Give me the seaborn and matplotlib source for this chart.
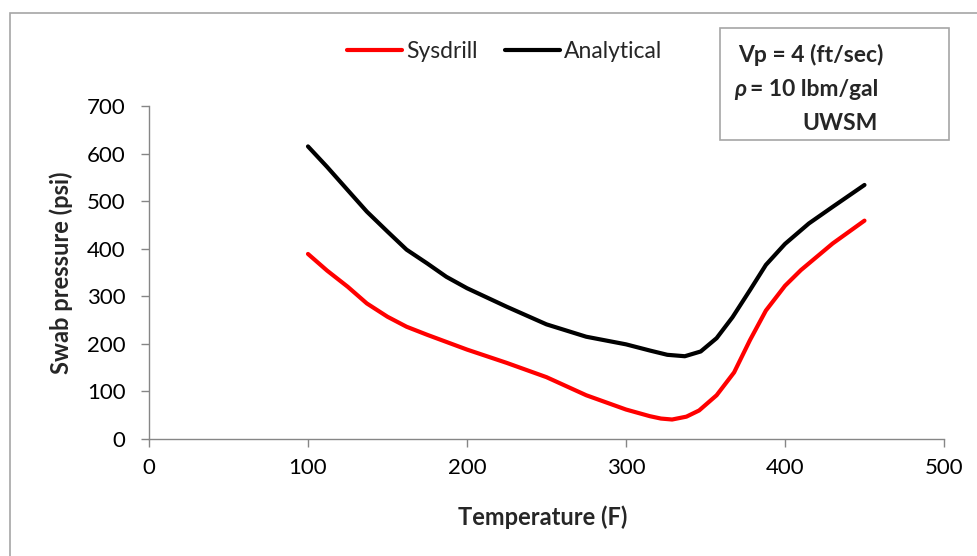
import matplotlib
matplotlib.use("Agg")
import matplotlib.pyplot as plt
import seaborn as sns
import pandas as pd
from matplotlib.patches import Rectangle

# values (Temperature F -> swab pressure psi)
sys_temp = [100, 112, 125, 137, 150, 162, 175, 200, 225, 250, 275, 300, 315, 322, 329, 338, 346, 357, 368, 378, 388, 400, 410, 430, 450]
sys_psi = [389, 354, 320, 285, 257, 236, 219, 188, 160, 130, 92, 62, 48, 43, 41, 47, 60, 92, 140, 208, 270, 322, 355, 411, 459]
ana_temp = [100, 112, 125, 137, 150, 162, 175, 187, 200, 225, 250, 275, 300, 315, 326, 337, 347, 357, 367, 378, 388, 400, 415, 430, 450]
ana_psi = [615, 572, 523, 478, 436, 398, 369, 341, 317, 278, 241, 215, 199, 186, 177, 174, 184, 212, 256, 313, 366, 410, 453, 488, 534]

series_names = ["Sysdrill", "Analytical"]
colors = ["#ff0000", "#000000"]

df = pd.concat([
    pd.DataFrame({"temp": sys_temp, "psi": sys_psi, "series": series_names[0]}),
    pd.DataFrame({"temp": ana_temp, "psi": ana_psi, "series": series_names[1]}),
])

sns.set_style("white")
plt.rcParams["font.family"] = ["Lato", "DejaVu Sans"]

fig = plt.figure(figsize=(9.77, 5.56), dpi=100)
ax = fig.add_axes([0.1525, 0.2104, 0.8137, 0.599])

sns.lineplot(data=df, x="temp", y="psi", hue="series", palette=colors,
             estimator=None, sort=False, linewidth=3.0, ax=ax)
for ln in ax.lines:
    ln.set_solid_joinstyle("round")
    ln.set_solid_capstyle("round")

ax.set_xlim(0, 500)
ax.set_ylim(0, 700)
ax.set_xticks(range(0, 501, 100))
ax.set_yticks(range(0, 701, 100))
ax.tick_params(axis="both", direction="out", length=6, width=1, color="#868686",
               labelsize=16, labelcolor="black", bottom=True, left=True)
ax.tick_params(axis="x", pad=8)
ax.tick_params(axis="y", pad=11)
for s in ["top", "right"]:
    ax.spines[s].set_visible(False)
for s in ["left", "bottom"]:
    ax.spines[s].set_color("#868686")
    ax.spines[s].set_linewidth(1)

ax.set_xlabel("Temperature (F)", fontsize=17, fontweight="bold")
ax.set_ylabel("Swab pressure (psi)", fontsize=17, fontweight="bold")
ax.xaxis.set_label_coords(0.495, -0.2)
ax.yaxis.set_label_coords(-0.095, 0.5)

ax.legend(loc="center", bbox_to_anchor=(505 / 977, 1 - 52 / 556), bbox_transform=fig.transFigure,
          ncol=2, frameon=False, fontsize=16.5, handlelength=2.4, handletextpad=0.17,
          columnspacing=1.2)

# info box
fig.patches.append(Rectangle((720 / 977, 1 - 140 / 556), 229 / 977, 112 / 556,
                             transform=fig.transFigure, fill=False,
                             edgecolor="#a6a6a6", linewidth=1.2))
fig.text(738 / 977, 1 - 55 / 556, "Vp = 4 (ft/sec)", fontsize=16.5, fontweight="bold", va="center")
fig.text(734 / 977, 1 - 90 / 556, "ρ", fontsize=16.5, fontweight="bold", style="italic", va="center")
fig.text(750 / 977, 1 - 90 / 556, "= 10 lbm/gal", fontsize=16.5, fontweight="bold", va="center")
fig.text(840 / 977, 1 - 123 / 556, "UWSM", fontsize=16.5, fontweight="bold", va="center", ha="center")

# chart area border
fig.patches.append(Rectangle((10 / 977, -0.1), 1.2, 1 - 13 / 556 + 0.1,
                             transform=fig.transFigure, fill=False,
                             edgecolor="#a6a6a6", linewidth=1.2))

fig.savefig("out.png", dpi=100)
